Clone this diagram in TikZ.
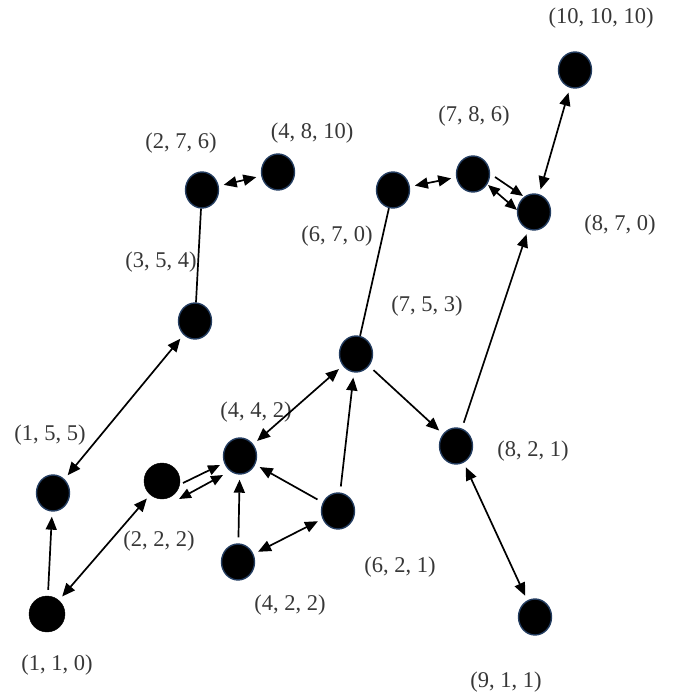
\documentclass[tikz,border=0pt]{standalone}
\usepackage{fontspec}
\setmainfont{Liberation Serif}
\usetikzlibrary{shapes.geometric,arrows.meta,calc}
\definecolor{edgeblue}{RGB}{35,60,95}
\definecolor{labelgray}{RGB}{55,55,55}
\begin{document}
\begin{tikzpicture}[x=1pt,y=-1pt,
 vtx/.style={ellipse,fill=black,draw=edgeblue,line width=1.4pt,minimum width=33pt,minimum height=36pt,inner sep=0pt},
 bvtx/.style={circle,fill=black,draw=black,minimum size=36pt,inner sep=0pt},
 lbl/.style={text=labelgray,font=\fontsize{22.5}{26}\selectfont,inner sep=0pt},
 con/.style={line width=1.7pt},
 arr/.style={con,-{Triangle[length=13pt,width=11pt]},shorten >=5pt,shorten <=6pt},
 darr/.style={con,{Triangle[length=13pt,width=11pt]}-{Triangle[length=13pt,width=11pt]},shorten >=5pt,shorten <=5pt},
 parr/.style={con,-{Triangle[length=12pt,width=10pt]}},
 pdarr/.style={con,{Triangle[length=12pt,width=10pt]}-{Triangle[length=12pt,width=10pt]}}]
\useasboundingbox (0,0) rectangle (676,695);
% vertices
\node[bvtx] (n110) at (47,614) {};
\node[vtx] (n155) at (53,493) {};
\node[bvtx] (n222) at (162,481) {};
\node[vtx] (n442) at (240,456) {};
\node[vtx] (n422) at (238,562) {};
\node[vtx] (n621) at (338,511) {};
\node[vtx] (n753) at (356,354) {};
\node[vtx] (n821) at (456,446) {};
\node[vtx] (n911) at (535,617) {};
\node[vtx] (n354) at (195,321) {};
\node[vtx] (n276) at (202,190) {};
\node[vtx] (n4810) at (278,172) {};
\node[vtx] (n670) at (393,190) {};
\node[vtx] (n786) at (473,174) {};
\node[vtx] (n870) at (534,212) {};
\node[vtx] (n101010) at (575,70) {};
% labels
\node[lbl] (l101010) at (601,18) {(10, 10, 10)};
\node[lbl] (l786) at (474,116) {(7, 8, 6)};
\node[lbl] (l870) at (620,225) {(8, 7, 0)};
\node[lbl] (l4810) at (312,133) {(4, 8, 10)};
\node[lbl] (l276) at (181,143) {(2, 7, 6)};
\node[lbl] (l670) at (337,236) {(6, 7, 0)};
\node[lbl] (l354) at (161,262) {(3, 5, 4)};
\node[lbl] (l753) at (427,306) {(7, 5, 3)};
\node[lbl] (l442) at (256,412) {(4, 4, 2)};
\node[lbl] (l821) at (533,451) {(8, 2, 1)};
\node[lbl] (l155) at (50,435) {(1, 5, 5)};
\node[lbl] (l222) at (159,541) {(2, 2, 2)};
\node[lbl] (l621) at (400,567) {(6, 2, 1)};
\node[lbl] (l422) at (290,605) {(4, 2, 2)};
\node[lbl] (l110) at (57,665) {(1, 1, 0)};
\node[lbl] (l911) at (506,682) {(9, 1, 1)};
% connectors
\draw[arr] (n110) -- (n155);
\draw[darr] (n110) -- (n222);
\draw[darr] (n155) -- (n354);
\draw[con] (n354) -- (n276);
\draw[darr] (n276) -- (n4810);
\draw[parr] ($(n222)+(21,2)$) -- ($(n442)+(-20,9)$);
\draw[pdarr] ($(n222)+(17,18)$) -- ($(n442)+(-17,19)$);
\draw[arr] (n422) -- (n442);
\draw[arr] (n621) -- (n442);
\draw[darr] (n422) -- (n621);
\draw[arr] (n621) -- (n753);
\draw[darr] (n442) -- (n753);
\draw[arr] (n753) -- (n821);
\draw[con] (n753) -- (n670);
\draw[arr] (n821) -- (n870);
\draw[darr] (n821) -- (n911);
\draw[darr] (n670) -- (n786);
\draw[parr] ($(n786)+(22,3)$) -- ($(n870)+(-11,-16)$);
\draw[pdarr] ($(n786)+(15,11)$) -- ($(n870)+(-17,-2)$);
\draw[darr] (n101010) -- (n870);
\end{tikzpicture}
\end{document}
